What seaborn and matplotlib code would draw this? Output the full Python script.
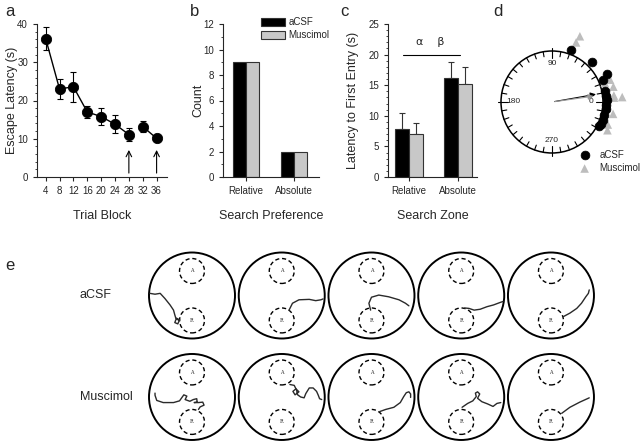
import numpy as np
import pandas as pd
import matplotlib.pyplot as plt
import seaborn as sns
from matplotlib.patches import Circle
from matplotlib.ticker import MultipleLocator

# panel a - escape latency per trial block
blocks = [4, 8, 12, 16, 20, 24, 28, 32, 36]
latency = [36.2, 23.0, 23.6, 17.0, 15.8, 13.8, 11.1, 13.2, 10.1]
latency_err = [3.1, 2.6, 3.9, 1.6, 2.2, 2.3, 1.6, 1.5, 0.4]
segment = [0, 0, 0, 0, 0, 0, 0, 1, 1]
probe_blocks = [28, 36]

# panel b - search preference counts
groups = ['aCSF', 'Muscimol']
pref_cats = ['Relative', 'Absolute']
pref_acsf = [9, 2]
pref_musc = [9, 2]

# panel c - latency to first entry
zone_cats = ['Relative', 'Absolute']
zone_acsf = [7.8, 16.1]
zone_acsf_err = [2.6, 2.7]
zone_musc = [7.0, 15.2]
zone_musc_err = [1.8, 2.8]

# panel d - circular headings (deg) and distance from circle
acsf_deg = [70, 45, 27, 23, 12, 6, 2, -3, -7, -14, -20, -24, -27]
acsf_r = [1.08, 1.10, 1.22, 1.08, 1.06, 1.06, 1.08, 1.07, 1.07, 1.06, 1.06, 1.05, 1.04]
musc_deg = [67, 68, 21, 20, 14, 6, 4, 4, -11, -22, -27]
musc_r = [1.40, 1.26, 1.22, 1.10, 1.24, 1.22, 1.38, 1.22, 1.22, 1.18, 1.22]
mean_deg = [10, 8]
mean_len = [0.93, 0.88]

# panel e - example swim paths (pool radius = 1)
acsf_paths = [
    [(-0.98, 0.05), (-0.86, 0.03), (-0.74, 0.05), (-0.63, -0.07), (-0.51, -0.22), (-0.43, -0.34),
     (-0.40, -0.45), (-0.37, -0.55), (-0.40, -0.63), (-0.33, -0.66), (-0.30, -0.59), (-0.36, -0.53),
     (-0.28, -0.57)],
    [(0.17, -0.34), (0.25, -0.18), (0.40, -0.10), (0.64, -0.09), (0.79, -0.12), (0.91, -0.10), (0.96, -0.08)],
    [(-0.02, -0.34), (-0.06, -0.18), (0.0, -0.04), (0.17, 0.01), (0.40, -0.03), (0.64, -0.10),
     (0.79, -0.18), (0.87, -0.24)],
    [(0.08, -0.29), (0.18, -0.30), (0.30, -0.34), (0.44, -0.32), (0.60, -0.26), (0.75, -0.22),
     (0.91, -0.16), (0.97, -0.14)],
    [(0.29, -0.49), (0.44, -0.41), (0.60, -0.30), (0.71, -0.18), (0.81, -0.03), (0.87, 0.05), (0.89, 0.13)],
]
musc_paths = [
    [(-0.86, 0.09), (-0.86, 0.04), (-0.82, -0.08), (-0.67, -0.13), (-0.43, -0.13), (-0.29, -0.09),
     (-0.24, -0.02), (-0.19, 0.05), (-0.12, 0.02), (-0.16, -0.06), (-0.05, -0.10), (0.03, -0.06),
     (0.11, -0.04), (0.12, -0.12), (0.05, -0.13), (0.15, -0.13), (0.25, -0.12), (0.28, -0.19),
     (0.19, -0.23), (0.15, -0.29)],
    [(0.19, 0.29), (0.29, 0.27), (0.33, 0.19), (0.26, 0.13), (0.31, 0.05), (0.40, 0.12), (0.34, 0.18),
     (0.37, 0.05), (0.44, 0.0), (0.52, -0.02), (0.56, 0.08), (0.64, 0.21), (0.73, 0.21), (0.81, 0.13),
     (0.85, 0.04), (0.88, -0.04), (0.93, -0.06)],
    [(0.19, -0.34), (0.33, -0.29), (0.52, -0.24), (0.67, -0.13), (0.75, 0.01), (0.81, 0.10),
     (0.87, 0.12), (0.91, 0.07), (0.91, -0.01)],
    [(0.02, -0.24), (0.15, -0.15), (0.27, -0.09), (0.35, 0.01), (0.33, 0.09), (0.38, 0.12), (0.43, 0.07),
     (0.38, -0.03), (0.48, -0.11), (0.61, -0.16), (0.74, -0.22), (0.83, -0.15), (0.92, -0.13)],
    [(0.25, -0.38), (0.44, -0.24), (0.67, -0.12), (0.89, -0.02)],
]
row_labels = ['aCSF', 'Muscimol']

sns.set_style('ticks')
plt.rcParams['font.family'] = ['Liberation Sans', 'DejaVu Sans']
plt.rcParams['axes.linewidth'] = 0.8

W, H = 640, 441
fig = plt.figure(figsize=(6.4, 4.41), dpi=100)


def box(x0, y0, x1, y1):
    return [x0 / W, 1 - y1 / H, (x1 - x0) / W, (y1 - y0) / H]


def style_axis(ax):
    sns.despine(ax=ax)
    ax.tick_params(which='major', labelsize=7, length=3, width=0.8, direction='out')
    ax.tick_params(which='minor', length=1.8, width=0.6, direction='out')


black = 'black'
grey = '#c8c8c8'

# ---- a
ax = fig.add_axes(box(37, 24, 167, 177))
df_a = pd.DataFrame({'block': blocks, 'lat': latency, 'seg': segment})
for s in sorted(set(segment)):
    sub = df_a[df_a['seg'] == s]
    sns.lineplot(data=sub, x='block', y='lat', color=black, lw=1, ax=ax)
ax.errorbar(blocks, latency, yerr=latency_err, fmt='none', ecolor=black, elinewidth=0.8, capsize=2, capthick=0.8)
sns.scatterplot(data=df_a, x='block', y='lat', color=black, s=55, edgecolor=black, ax=ax, zorder=3)
for b in probe_blocks:
    ax.annotate('', xy=(b, 7.8), xytext=(b, 0.3), arrowprops=dict(arrowstyle='->', lw=0.8, color=black))
ax.set_xlim(1.5, 39)
ax.set_ylim(0, 40)
ax.set_xticks(blocks)
ax.yaxis.set_major_locator(MultipleLocator(10))
ax.yaxis.set_minor_locator(MultipleLocator(2))
ax.set_xlabel('Trial Block', fontsize=9, labelpad=10)
ax.set_ylabel('Escape Latency (s)', fontsize=9)
ax.yaxis.set_label_coords(-0.145, 0.5)
style_axis(ax)

# ---- b
ax = fig.add_axes(box(223, 24, 319, 177))
df_b = pd.DataFrame({'cat': pref_cats * 2, 'group': [groups[0]] * 2 + [groups[1]] * 2,
                     'count': pref_acsf + pref_musc})
sns.barplot(data=df_b, x='cat', y='count', hue='group', palette=[black, grey], width=0.56,
            edgecolor='#333333', linewidth=0.8, errorbar=None, ax=ax)
ax.set_xlim(-0.48, 1.52)
ax.set_ylim(0, 12)
ax.yaxis.set_major_locator(MultipleLocator(2))
ax.yaxis.set_minor_locator(MultipleLocator(1))
ax.legend(loc='upper left', bbox_to_anchor=(0.36, 1.07), frameon=False, fontsize=7,
          handlelength=2.4, handleheight=0.9, handletextpad=0.4, labelspacing=0.3, borderaxespad=0)
ax.set_xlabel('Search Preference', fontsize=9, labelpad=10)
ax.set_ylabel('Count', fontsize=9)
ax.yaxis.set_label_coords(-0.19, 0.5)
style_axis(ax)

# ---- c
ax = fig.add_axes(box(388, 24, 477, 177))
df_c = pd.DataFrame({'cat': zone_cats * 2, 'group': [groups[0]] * 2 + [groups[1]] * 2,
                     'lat': zone_acsf + zone_musc})
sns.barplot(data=df_c, x='cat', y='lat', hue='group', palette=[black, grey], width=0.56,
            edgecolor='#333333', linewidth=0.8, errorbar=None, legend=False, ax=ax)
xc = np.arange(len(zone_cats))
ax.errorbar(xc - 0.14, zone_acsf, yerr=[np.zeros(2), zone_acsf_err], fmt='none', ecolor='#333333',
            elinewidth=0.8, capsize=2.5, capthick=0.8, zorder=0)
ax.errorbar(xc + 0.14, zone_musc, yerr=[np.zeros(2), zone_musc_err], fmt='none', ecolor='#333333',
            elinewidth=0.8, capsize=2.5, capthick=0.8, zorder=0)
ax.plot([-0.12, 1.04], [20, 20], color=black, lw=0.8)
ax.text(0.43, 21.2, '\u03b1    \u03b2', ha='center', va='bottom', fontsize=8,
        family=['DejaVu Sans'])
ax.set_xlim(-0.43, 1.39)
ax.set_ylim(0, 25)
ax.yaxis.set_major_locator(MultipleLocator(5))
ax.yaxis.set_minor_locator(MultipleLocator(1))
ax.set_xlabel('Search Zone', fontsize=9, labelpad=10)
ax.set_ylabel('Latency to First Entry (s)', fontsize=9)
ax.yaxis.set_label_coords(-0.33, 0.5)
style_axis(ax)

# ---- d
ax = fig.add_axes(box(490, 20, 640, 215))
ax.set_xlim(-62 / 51, 88 / 51)
ax.set_ylim(-113 / 51, 82 / 51)
ax.axis('off')
ax.add_patch(Circle((0, 0), 1, fill=False, lw=1.1, color=black))
for deg in range(0, 360, 10):
    t = np.deg2rad(deg)
    r0, r1 = (0.86, 1.05) if deg % 90 == 0 else (0.9, 1.0)
    ax.plot([r0 * np.cos(t), r1 * np.cos(t)], [r0 * np.sin(t), r1 * np.sin(t)], color=black, lw=0.8)
for deg, lab in [(0, '0'), (90, '90'), (180, '180'), (270, '270')]:
    t = np.deg2rad(deg)
    ax.text(0.76 * np.cos(t), 0.76 * np.sin(t), lab, ha='center', va='center', fontsize=6)
ta = np.deg2rad(acsf_deg)
tm = np.deg2rad(musc_deg)
sns.scatterplot(x=np.array(musc_r) * np.cos(tm), y=np.array(musc_r) * np.sin(tm), marker='^', s=38,
                color='#bdbdbd', edgecolor='none', label='Muscimol', ax=ax, zorder=2)
sns.scatterplot(x=np.array(acsf_r) * np.cos(ta), y=np.array(acsf_r) * np.sin(ta), marker='o', s=40,
                color=black, edgecolor=black, label='aCSF', ax=ax, zorder=3)
for deg, ln, col in zip(mean_deg, mean_len, [black, '#999999']):
    t = np.deg2rad(deg)
    ax.annotate('', xy=(ln * np.cos(t), ln * np.sin(t)), xytext=(0, 0),
                arrowprops=dict(arrowstyle='-|>', lw=0.8, color=col, mutation_scale=8))
h, l = ax.get_legend_handles_labels()
ax.legend(h[::-1], l[::-1], loc='upper left', bbox_to_anchor=(0.54, 0.355), frameon=False, fontsize=7,
          handletextpad=0.5, labelspacing=0.35, borderaxespad=0)

# ---- e
ax = fig.add_axes(box(145, 250, 600, 441))
ax.set_xlim(-47 / 43, 408 / 43)
ax.set_ylim(-145.5 / 43, 45.5 / 43)
ax.axis('off')
col_step, row_step = 2.087, 2.36
for row, paths in enumerate([acsf_paths, musc_paths]):
    cy = -row * row_step
    for col, path in enumerate(paths):
        cx = col * col_step
        ax.add_patch(Circle((cx, cy), 1, fill=False, lw=1.4, color=black))
        for dy, lab in [(0.57, 'A'), (-0.58, 'R')]:
            ax.add_patch(Circle((cx, cy + dy), 0.29, fill=False, lw=1.0, color=black, ls=(0, (3, 2))))
            ax.text(cx, cy + dy, lab, ha='center', va='center', fontsize=3.5, family=['DejaVu Serif'])
        p = np.array(path)
        ax.plot(cx + p[:, 0], cy + p[:, 1], color='#2a2a2a', lw=1.0, solid_joinstyle='round')
for row, lab in enumerate(row_labels):
    fig.text(80 / W, 1 - (295.5 + row * 101.5) / H, lab, fontsize=9, va='center')

# panel letters
for lab, x, y in [('a', 5, 12), ('b', 190, 12), ('c', 340, 12), ('d', 493, 12), ('e', 5, 266)]:
    fig.text(x / W, 1 - y / H, lab, fontsize=12, va='center')

fig.savefig('out.png', dpi=100)
